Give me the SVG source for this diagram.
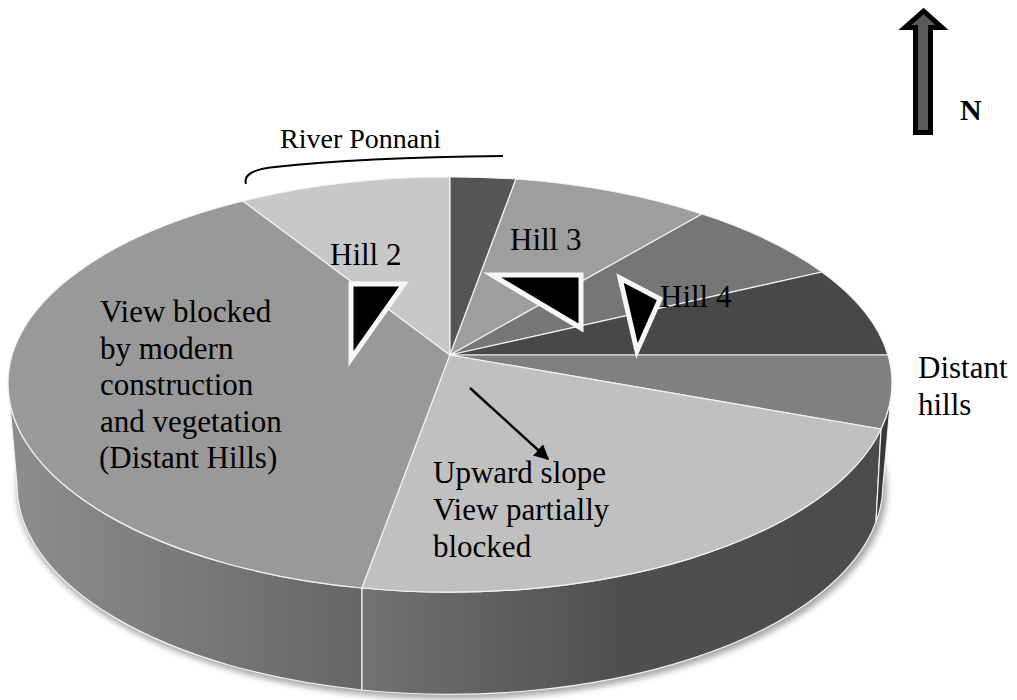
<svg xmlns="http://www.w3.org/2000/svg" width="1017" height="700" viewBox="0 0 1017 700">
  <style>
    .lbl { font-family: "Liberation Serif", "Times New Roman", serif; font-size: 31px; fill: #000; }
    .edge { stroke: #f2f2f2; stroke-width: 1.2; stroke-linejoin: round; }
    .tri { fill: #000; stroke: #f7f7f7; stroke-width: 5; stroke-linejoin: miter; }
  </style>
  <defs>
    <linearGradient id="gLeft" gradientUnits="userSpaceOnUse" x1="8" y1="0" x2="362" y2="0">
      <stop offset="0" stop-color="#8e8e8e"/>
      <stop offset="1" stop-color="#666666"/>
    </linearGradient>
    <linearGradient id="gMid" gradientUnits="userSpaceOnUse" x1="362" y1="0" x2="881" y2="0">
      <stop offset="0" stop-color="#727272"/>
      <stop offset="0.5" stop-color="#4f4f4f"/>
      <stop offset="1" stop-color="#4c4c4c"/>
    </linearGradient>
    <filter id="soft" x="-10%" y="-10%" width="120%" height="130%">
      <feGaussianBlur stdDeviation="3"/>
    </filter>
    <marker id="ah" viewBox="0 0 10 10" refX="9" refY="5" markerWidth="6" markerHeight="6" orient="auto" markerUnits="strokeWidth">
      <path d="M0,0 L10,5 L0,10 Z" fill="#000"/>
    </marker>
  </defs>
  <rect width="1017" height="700" fill="#ffffff"/>

  <!-- shadow -->
  <ellipse cx="452" cy="489" rx="435" ry="210" fill="#000" opacity="0.35" filter="url(#soft)"/>

  <!-- side walls -->
  <g id="walls">
    <path id="wall-left" class="edge" fill="url(#gLeft)" d="M8 383 A442 209 0 0 0 362 588 L362 690 A433 209 0 0 1 17 485 Z"/>
    <path id="wall-mid" class="edge" fill="url(#gMid)" d="M362 588 A442 209 0 0 0 881 429 L876 522 A433 209 0 0 1 362 690 Z"/>
    <path id="wall-right" class="edge" fill="#383838" d="M881 429 A442 209 0 0 0 892 383 L883 485 A433 209 0 0 1 876 522 Z"/>
  </g>

  <!-- top slices -->
  <g id="slices">
    <path id="slice-blocked" class="edge" fill="#999999" d="M450 355 L362 588 A442 209 0 0 1 8 383 A442 206 0 0 1 243 201 Z"/>
    <path id="slice-hill2" class="edge" fill="#c8c8c8" d="M450 355 L243 201 A442 206 0 0 1 450 177 Z"/>
    <path id="slice-dark" class="edge" fill="#555555" d="M450 355 L450 177 A442 206 0 0 1 516 179 Z"/>
    <path id="slice-hill3" class="edge" fill="#9e9e9e" d="M450 355 L516 179 A442 206 0 0 1 702 214 Z"/>
    <path id="slice-mid" class="edge" fill="#767676" d="M450 355 L702 214 A442 206 0 0 1 822 272 Z"/>
    <path id="slice-hill4" class="edge" fill="#484848" d="M450 355 L822 272 A442 206 0 0 1 888 355 Z"/>
    <path id="slice-distant" class="edge" fill="#808080" d="M450 355 L888 355 A442 206 0 0 1 892 383 A442 209 0 0 1 881 429 Z"/>
    <path id="slice-upward" class="edge" fill="#c0c0c0" d="M450 355 L881 429 A442 209 0 0 1 362 588 Z"/>
  </g>

  <!-- hill markers -->
  <g id="hill2-marker"><polygon class="tri" points="351,284 404,284 351,359"/></g>
  <g id="hill3-marker"><polygon class="tri" points="492,275 581,275 581,328"/></g>
  <g id="hill4-marker"><polygon class="tri" points="620,278 660,299 637,351"/></g>

  <!-- connectors -->
  <g id="connectors">
    <path id="river-line" d="M246 184 C243 174 255 169 275 167 C330 161 420 157 503 156" fill="none" stroke="#000" stroke-width="2"/>
    <line id="slope-arrow" x1="470" y1="388" x2="548" y2="459" stroke="#000" stroke-width="2.5" marker-end="url(#ah)"/>
  </g>

  <!-- north arrow -->
  <g id="north">
    <polygon points="923.5,11 905,27.5 915.5,27.5 915.5,132.5 930.5,132.5 930.5,27.5 942,27.5" fill="#595959" stroke="#000" stroke-width="5" stroke-linejoin="miter" stroke-miterlimit="3"/>
    <text x="960" y="120" font-family="Liberation Serif, serif" font-size="30" font-weight="bold">N</text>
  </g>

  <!-- labels -->
  <g id="labels">
    <text class="lbl" x="280" y="148" style="font-size:28px">River Ponnani</text>
    <text class="lbl" x="330" y="265">Hill 2</text>
    <text class="lbl" x="510" y="250">Hill 3</text>
    <text class="lbl" x="660" y="307">Hill 4</text>
    <text class="lbl" x="100" y="322">View blocked</text>
    <text class="lbl" x="100" y="358.5">by modern</text>
    <text class="lbl" x="100" y="395">construction</text>
    <text class="lbl" x="100" y="431.5">and vegetation</text>
    <text class="lbl" x="99" y="468">(Distant Hills)</text>
    <text class="lbl" x="433" y="483">Upward slope</text>
    <text class="lbl" x="433" y="520">View partially</text>
    <text class="lbl" x="433" y="557">blocked</text>
    <text class="lbl" x="918" y="378">Distant</text>
    <text class="lbl" x="918" y="415">hills</text>
  </g>
</svg>
